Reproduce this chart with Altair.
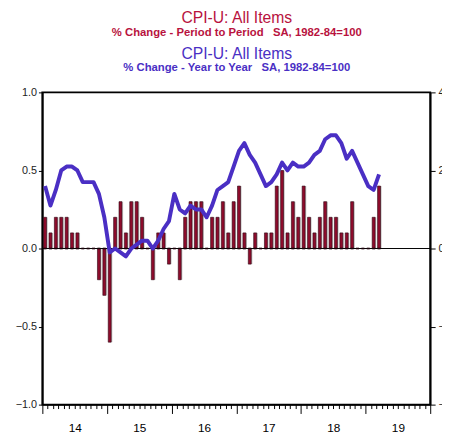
import altair as alt
import pandas as pd

# ---- data ----
years = [2014] * 12 + [2015] * 12 + [2016] * 12 + [2017] * 12 + [2018] * 12 + [2019] * 3
months = list(range(1, 13)) * 5 + [1, 2, 3]

# monthly % change (left axis, bars)
mom = [0.2, 0.1, 0.2, 0.2, 0.2, 0.1, 0.1, 0.0, 0.0, 0.0, -0.2, -0.3,
       -0.6, 0.2, 0.3, 0.1, 0.3, 0.3, 0.2, 0.0, -0.2, 0.1, 0.1, -0.1,
       0.0, -0.2, 0.2, 0.3, 0.3, 0.3, 0.0, 0.2, 0.2, 0.3, 0.1, 0.3,
       0.4, 0.1, -0.1, 0.1, 0.0, 0.1, 0.1, 0.4, 0.5, 0.1, 0.3, 0.2,
       0.4, 0.2, 0.1, 0.2, 0.3, 0.2, 0.2, 0.1, 0.1, 0.3, 0.0, 0.0,
       0.0, 0.2, 0.4]

# year-over-year % change (right axis, line)
yoy = [1.6, 1.1, 1.5, 2.0, 2.1, 2.1, 2.0, 1.7, 1.7, 1.7, 1.4, 0.8,
       -0.1, 0.0, -0.1, -0.2, 0.0, 0.1, 0.2, 0.2, 0.0, 0.2, 0.5, 0.7,
       1.4, 1.0, 0.9, 1.1, 1.0, 1.0, 0.8, 1.1, 1.5, 1.6, 1.7, 2.1,
       2.5, 2.7, 2.4, 2.2, 1.9, 1.6, 1.7, 1.9, 2.2, 2.0, 2.2, 2.1,
       2.1, 2.2, 2.4, 2.5, 2.8, 2.9, 2.9, 2.7, 2.3, 2.5, 2.2, 1.9,
       1.6, 1.5, 1.9]

year_labels = ["14", "15", "16", "17", "18", "19"]
left_ticks = [-1.0, -0.5, 0.0, 0.5, 1.0]
right_ticks = [-4, -2, 0, 2, 4]

NB = "\u00a0"
title_red = "CPI-U: All Items"
subtitle_red = "% Change - Period to Period" + NB * 3 + "SA, 1982-84=100"
title_blue = "CPI-U: All Items"
subtitle_blue = "% Change - Year to Year" + NB * 3 + "SA, 1982-84=100"

RED = "#b8123e"
BLUE = "#4a2fc4"
BAR = "#8e0c2c"
FONT = "Liberation Sans"

df = pd.DataFrame({"year": years, "month": months, "mom": mom, "yoy": yoy})
df["t"] = (df["year"] - 2014) * 12 + df["month"] - 0.5

n_months = len(year_labels) * 12
xscale = alt.Scale(domain=[0, n_months], nice=False, zero=False, padding=0)
yl = alt.Scale(domain=[-1, 1], nice=False)
yr = alt.Scale(domain=[-4, 4], nice=False)

label_arr = "[" + ",".join("'" + s + "'" for s in year_labels) + "]"

x_axis = alt.Axis(
    values=list(range(n_months + 1)),
    tickSize={"condition": {"test": "datum.value % 12 == 0", "value": 9}, "value": 4},
    tickColor="black",
    tickWidth=1,
    labelExpr=f"datum.value % 12 == 6 ? {label_arr}[floor(datum.value / 12)] : ''",
    labelFontSize=12,
    labelFont=FONT,
    labelColor="black",
    labelPadding=14,
    labelOverlap=False,
    labelFlush=False,
    domainColor="black",
    domainWidth=1.5,
    grid=False,
    title=None,
)

X = alt.X("t:Q", scale=xscale, axis=x_axis)

shadow = alt.Chart(df).mark_bar(size=3, color="#c8c8c8", xOffset=1.2).encode(
    x=X,
    y=alt.Y("mom:Q", scale=yl, axis=None),
)

bars = alt.Chart(df).mark_bar(size=3, fill=BAR, stroke="#2a0410", strokeWidth=0.6).encode(
    x=X,
    y=alt.Y("mom:Q", scale=yl, axis=alt.Axis(
        values=left_ticks, format=".1f", tickSize=4, tickColor="black",
        labelFontSize=11, labelFont=FONT, labelColor="#222222", labelPadding=2,
        domainColor="black", domainWidth=1.5, grid=False, title=None)),
)

zero = alt.Chart(pd.DataFrame({"z": [0.0]})).mark_rule(color="black", strokeWidth=1).encode(
    y=alt.Y("z:Q", scale=yl, axis=None),
)

# small base marks: make zero-valued months visible as dots on the zero line
base = alt.Chart(df).mark_tick(color="#2a0410", size=3, thickness=2, orient="horizontal").encode(
    x=X,
    y=alt.Y("zero_base:Q", scale=yl, axis=None),
).transform_calculate(zero_base="0")

line = alt.Chart(df).mark_line(color=BLUE, strokeWidth=4, strokeJoin="round").encode(
    x=X,
    y=alt.Y("yoy:Q", scale=yr, axis=alt.Axis(
        orient="right", values=right_ticks, format="d", tickSize=5, tickColor="black",
        labelFontSize=11, labelFont=FONT, labelColor="#222222", labelPadding=3,
        domainColor="black", domainWidth=1.5, grid=False, title=None)),
)


def text_layer(txt, y, size, color, weight):
    return alt.Chart(pd.DataFrame({"txt": [txt]})).mark_text(
        font=FONT, fontSize=size, color=color, fontWeight=weight,
        align="center", baseline="middle",
    ).encode(x=alt.value(198), y=alt.value(y), text="txt:N")


titles = [
    text_layer(title_red, -76, 16, RED, "normal"),
    text_layer(subtitle_red, -60, 11.5, RED, "bold"),
    text_layer(title_blue, -39, 16, BLUE, "normal"),
    text_layer(subtitle_blue, -25, 11.5, BLUE, "bold"),
]

chart = alt.layer(shadow, bars, zero, base, line, *titles).resolve_scale(
    y="independent"
).properties(
    width=395,
    height=318,
    autosize=alt.AutoSizeParams(type="none"),
    padding={"left": 35, "top": 82, "right": 12, "bottom": 28},
).configure_view(stroke="black", strokeWidth=2)

chart.save("out.html", embed_options={"renderer": "svg", "actions": False})
